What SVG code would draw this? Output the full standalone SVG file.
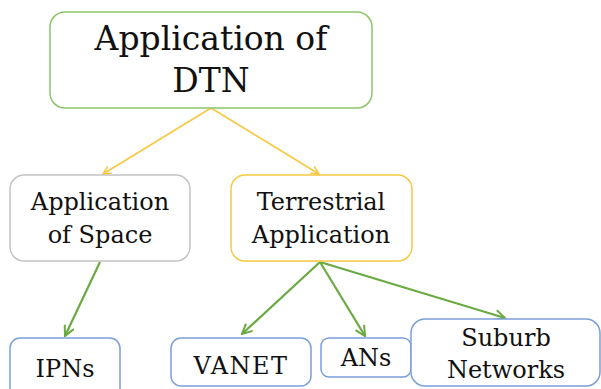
<svg xmlns="http://www.w3.org/2000/svg" width="601" height="389" viewBox="0 0 601 389">
<style>
.box{fill:#fff;stroke-width:1.5}
.t{fill:#111;text-anchor:middle;font-family:"DejaVu Serif","Liberation Serif","Times New Roman",serif}
.big{font-size:33px}
.mid{font-size:24px}
.ya{stroke:#f7c844;stroke-width:1.6;fill:none}
.ga{stroke:#6aaa42;stroke-width:2.2;fill:none}
</style>
<defs>
<marker id="my" viewBox="0 0 10 10" refX="9" refY="5" markerWidth="10" markerHeight="10" markerUnits="userSpaceOnUse" orient="auto"><path d="M1,1 L9,5 L1,9" fill="none" stroke="#f7c844" stroke-width="1.6"/></marker>
<marker id="mg" viewBox="0 0 12 12" refX="11" refY="6" markerWidth="12" markerHeight="12" markerUnits="userSpaceOnUse" orient="auto"><path d="M1,1 L11,6 L1,11" fill="none" stroke="#6aaa42" stroke-width="2"/></marker>
</defs>
<rect width="601" height="389" fill="#fff"/>
<g id="connectors">
<line class="ya" x1="211" y1="108" x2="103" y2="174" marker-end="url(#my)"/>
<line class="ya" x1="211" y1="108" x2="319" y2="174" marker-end="url(#my)"/>
<line class="ga" x1="100" y1="262" x2="65" y2="336" marker-end="url(#mg)"/>
<line class="ga" x1="320" y1="262" x2="242" y2="334" marker-end="url(#mg)"/>
<line class="ga" x1="320" y1="262" x2="365" y2="336" marker-end="url(#mg)"/>
<line class="ga" x1="320" y1="262" x2="505" y2="318" marker-end="url(#mg)"/>
</g>
<g id="dtn">
<rect class="box" x="50" y="12" width="322" height="96" rx="15" stroke="#8cc46c"/>
<text class="t big" x="211" y="50">Application of</text>
<text class="t big" x="211" y="92">DTN</text>
</g>
<g id="space">
<rect class="box" x="10" y="175" width="180" height="86" rx="14" stroke="#c4c4c4"/>
<text class="t mid" x="100" y="210">Application</text>
<text class="t mid" x="100" y="243">of Space</text>
</g>
<g id="terrestrial">
<rect class="box" x="231" y="175" width="181" height="86" rx="14" stroke="#f7c844"/>
<text class="t mid" x="321" y="210">Terrestrial</text>
<text class="t mid" x="321" y="243">Application</text>
</g>
<g id="ipns">
<rect class="box" x="10" y="338" width="110" height="60" rx="10" stroke="#7b9fd9"/>
<text class="t mid" x="65" y="377">IPNs</text>
</g>
<g id="vanet">
<rect class="box" x="171" y="338" width="140" height="48" rx="10" stroke="#7b9fd9"/>
<text class="t mid" x="241" y="374" letter-spacing="1.5">VANET</text>
</g>
<g id="ans">
<rect class="box" x="321" y="338" width="90" height="39" rx="8" stroke="#7b9fd9"/>
<text class="t mid" x="366" y="366">ANs</text>
</g>
<g id="suburb">
<rect class="box" x="411" y="319" width="189" height="67" rx="14" stroke="#7b9fd9"/>
<text class="t mid" x="506" y="346">Suburb</text>
<text class="t mid" x="506" y="378">Networks</text>
</g>
</svg>
